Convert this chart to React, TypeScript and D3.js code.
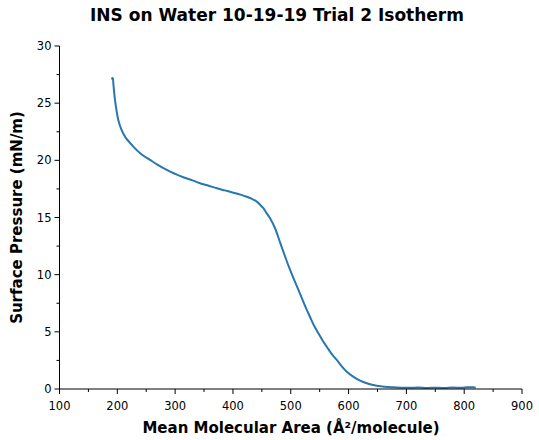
import React from 'react';
import * as d3 from 'd3';

// isotherm trace
const area = [
  190.5, 191.5, 192.3, 193.1, 196.0, 201.7, 207.0, 213.3, 227.7, 240.0, 256.6, 270.0, 285.5, 300.0,
  314.2, 330.0, 343.1, 358.0, 372.0, 386.0, 400.7, 413.0, 423.9, 433.0, 441.2, 447.0, 452.6, 458.0,
  464.2, 472.8, 481.0, 490.1, 497.0, 504.5, 512.0, 519.0, 526.0, 533.4, 540.0, 547.8, 555.0, 562.3,
  570.0, 579.6, 588.0, 596.9, 608.0, 619.9, 634.0, 648.8, 662.0, 677.5, 692.0, 706.0, 720.0, 735.3,
  750.0, 765.0, 780.0, 795.0, 805.0, 816.0, 820.0,
];
const pressure = [
  27.25, 27.1, 27.2, 26.75, 25.29, 23.53, 22.7, 22.07, 21.2, 20.6, 20.04, 19.6, 19.16, 18.82,
  18.52, 18.25, 18.0, 17.78, 17.56, 17.37, 17.17, 17.0, 16.82, 16.62, 16.39, 16.12, 15.81, 15.4,
  14.93, 14.06, 12.9, 11.6, 10.65, 9.72, 8.82, 7.97, 7.12, 6.3, 5.58, 4.87, 4.25, 3.7,
  3.12, 2.54, 2.0, 1.51, 1.08, 0.73, 0.46, 0.29, 0.2, 0.15, 0.12, 0.1, 0.13, 0.09,
  0.12, 0.08, 0.13, 0.1, 0.15, 0.15, 0.12,
];

const xTicks = [100, 200, 300, 400, 500, 600, 700, 800, 900];
const xMinor = [150, 250, 350, 450, 550, 650, 750, 850];
const yTicks = [0, 5, 10, 15, 20, 25, 30];
const yMinor = [2.5, 7.5, 12.5, 17.5, 22.5, 27.5];

const W = 539;
const H = 440;
const font = 'DejaVu Sans';

export default function App() {
  const x = d3.scaleLinear().domain([100, 900]).range([59.5, 522]);
  const y = d3.scaleLinear().domain([0, 30]).range([389, 46]);
  const pts: [number, number][] = area.map((a, i) => [a, pressure[i]]);
  const line = d3
    .line<[number, number]>()
    .x((d) => x(d[0]))
    .y((d) => y(d[1]))
    .curve(d3.curveCatmullRom);

  return (
    <svg
      width={W}
      height={H}
      style={{ position: 'absolute', left: 0, top: 0, background: '#fff' }}
      fontFamily={font}
    >
      <text x={277} y={21} textAnchor="middle" fontSize="17" fontWeight="bold">
        INS on Water 10-19-19 Trial 2 Isotherm
      </text>

      <path d={line(pts) || ''} fill="none" stroke="#2777b0" strokeWidth={2} strokeLinejoin="round" />

      {/* axes */}
      <line x1={x(100)} x2={x(100)} y1={y(0)} y2={y(30)} stroke="#000" strokeWidth={1} />
      <line x1={x(100)} x2={x(900)} y1={y(0)} y2={y(0)} stroke="#000" strokeWidth={1} />

      {xTicks.map((t) => (
        <g key={'x' + t}>
          <line x1={x(t)} x2={x(t)} y1={y(0)} y2={y(0) + 5} stroke="#000" />
          <text x={x(t)} y={y(0) + 21} textAnchor="middle" fontSize="11.5">
            {t}
          </text>
        </g>
      ))}
      {xMinor.map((t) => (
        <line key={'xm' + t} x1={x(t)} x2={x(t)} y1={y(0)} y2={y(0) + 3} stroke="#000" />
      ))}
      {yTicks.map((t) => (
        <g key={'y' + t}>
          <line x1={x(100) - 5} x2={x(100)} y1={y(t)} y2={y(t)} stroke="#000" />
          <text x={x(100) - 8} y={y(t) + 4} textAnchor="end" fontSize="11.5">
            {t}
          </text>
        </g>
      ))}
      {yMinor.map((t) => (
        <line key={'ym' + t} x1={x(100) - 3} x2={x(100)} y1={y(t)} y2={y(t)} stroke="#000" />
      ))}

      <text x={291} y={433} textAnchor="middle" fontSize="15" fontWeight="bold">
        Mean Molecular Area (Å²/molecule)
      </text>
      <text
        transform={`translate(22, ${(y(0) + y(30)) / 2}) rotate(-90)`}
        textAnchor="middle"
        fontSize="15"
        fontWeight="bold"
      >
        Surface Pressure (mN/m)
      </text>
    </svg>
  );
}
